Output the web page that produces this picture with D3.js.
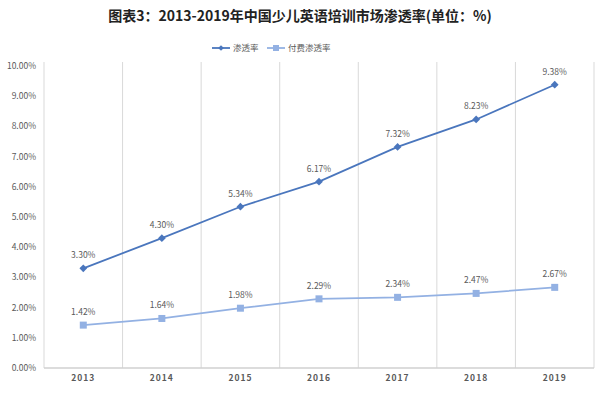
<!DOCTYPE html>
<html>
<head>
<meta charset="utf-8">
<script src="https://cdn.jsdelivr.net/npm/d3@7"></script>
<style>
  body { margin: 0; background: #fff; }
  svg { display: block; font-family: "Microsoft YaHei", "Noto Sans CJK SC", sans-serif; }
</style>
</head>
<body>
<svg id="chart" width="600" height="393"></svg>
<script>
// data
var years = ["2013", "2014", "2015", "2016", "2017", "2018", "2019"];
var penetration = [3.30, 4.30, 5.34, 6.17, 7.32, 8.23, 9.38];
var paidPenetration = [1.42, 1.64, 1.98, 2.29, 2.34, 2.47, 2.67];
var yTicks = [0, 1, 2, 3, 4, 5, 6, 7, 8, 9, 10];
var seriesNames = ["渗透率", "付费渗透率"];

var svg = d3.select("#chart");
var plotLeft = 44, plotRight = 594, plotTop = 66, plotBottom = 368;

var x = d3.scaleBand().domain(years).range([plotLeft, plotRight]);
var y = d3.scaleLinear().domain([0, 10]).range([plotBottom, plotTop]);

// title
svg.append("text")
  .attr("x", 300).attr("y", 21)
  .attr("text-anchor", "middle")
  .style("font-size", "14px").style("font-weight", "bold").style("fill", "#222")
  .text("图表3：2013-2019年中国少儿英语培训市场渗透率(单位：%)");

// vertical category separators
var seps = years.map(function(d) { return x(d) + x.bandwidth(); });
svg.selectAll(".sep").data(seps).enter().append("line")
  .attr("x1", function(d) { return d; }).attr("x2", function(d) { return d; })
  .attr("y1", 62).attr("y2", plotBottom)
  .attr("stroke", "#d9d9d9").attr("stroke-width", 1);

// axis lines
svg.append("line").attr("x1", plotLeft).attr("x2", plotLeft).attr("y1", 62).attr("y2", plotBottom)
  .attr("stroke", "#d9d9d9");
svg.append("line").attr("x1", plotLeft).attr("x2", plotRight).attr("y1", plotBottom).attr("y2", plotBottom)
  .attr("stroke", "#d0d0d0").attr("stroke-width", 1.5);

// y tick labels
svg.selectAll(".ytick").data(yTicks).enter().append("text")
  .attr("x", 36).attr("y", function(d) { return y(d) + 3; })
  .attr("text-anchor", "end")
  .style("font-size", "8.5px").style("fill", "#595959")
  .text(function(d) { return d.toFixed(2) + "%"; });

// x tick labels
svg.selectAll(".xtick").data(years).enter().append("text")
  .attr("x", function(d) { return x(d) + x.bandwidth() / 2; })
  .attr("y", 381)
  .attr("text-anchor", "middle")
  .style("font-size", "8.5px").style("font-weight", "bold").style("letter-spacing", "1px")
  .style("fill", "#595959")
  .text(function(d) { return d; });

var cx = function(d, i) { return x(years[i]) + x.bandwidth() / 2; };
var line = d3.line().x(cx).y(function(d) { return y(d); });

var colors = ["#4a76bd", "#93b1e3"];

// paid series (square markers)
svg.append("path").datum(paidPenetration).attr("d", line)
  .attr("fill", "none").attr("stroke", colors[1]).attr("stroke-width", 1.8);
svg.selectAll(".sq").data(paidPenetration).enter().append("rect")
  .attr("x", function(d, i) { return cx(d, i) - 3.5; })
  .attr("y", function(d) { return y(d) - 3.5; })
  .attr("width", 7).attr("height", 7).attr("fill", colors[1]);

// main series (diamond markers = rotated squares)
svg.append("path").datum(penetration).attr("d", line)
  .attr("fill", "none").attr("stroke", colors[0]).attr("stroke-width", 1.8);
svg.selectAll(".dm").data(penetration).enter().append("path")
  .attr("d", d3.symbol().type(d3.symbolSquare).size(30))
  .attr("transform", function(d, i) { return "translate(" + cx(d, i) + "," + y(d) + ") rotate(45)"; })
  .attr("fill", colors[0]);

// data labels
function labels(data) {
  svg.selectAll(null).data(data).enter().append("text")
    .attr("x", cx)
    .attr("y", function(d) { return y(d) - 10; })
    .attr("text-anchor", "middle")
    .style("font-size", "8.5px").style("fill", "#595959")
    .text(function(d) { return d.toFixed(2) + "%"; });
}
labels(penetration);
labels(paidPenetration);

// legend
var lg = svg.append("g").attr("transform", "translate(212,48)");
lg.append("line").attr("x1", 0).attr("x2", 18).attr("stroke", colors[0]).attr("stroke-width", 1.8);
lg.append("path").attr("d", d3.symbol().type(d3.symbolSquare).size(16))
  .attr("transform", "translate(9,0) rotate(45)").attr("fill", colors[0]);
lg.append("text").attr("x", 21).attr("y", 3).style("font-size", "8.5px").style("fill", "#595959")
  .text(seriesNames[0]);
lg.append("line").attr("x1", 55).attr("x2", 73).attr("stroke", colors[1]).attr("stroke-width", 1.8);
lg.append("rect").attr("x", 61).attr("y", -3).attr("width", 6).attr("height", 6).attr("fill", colors[1]);
lg.append("text").attr("x", 76).attr("y", 3).style("font-size", "8.5px").style("fill", "#595959")
  .text(seriesNames[1]);
</script>
</body>
</html>
